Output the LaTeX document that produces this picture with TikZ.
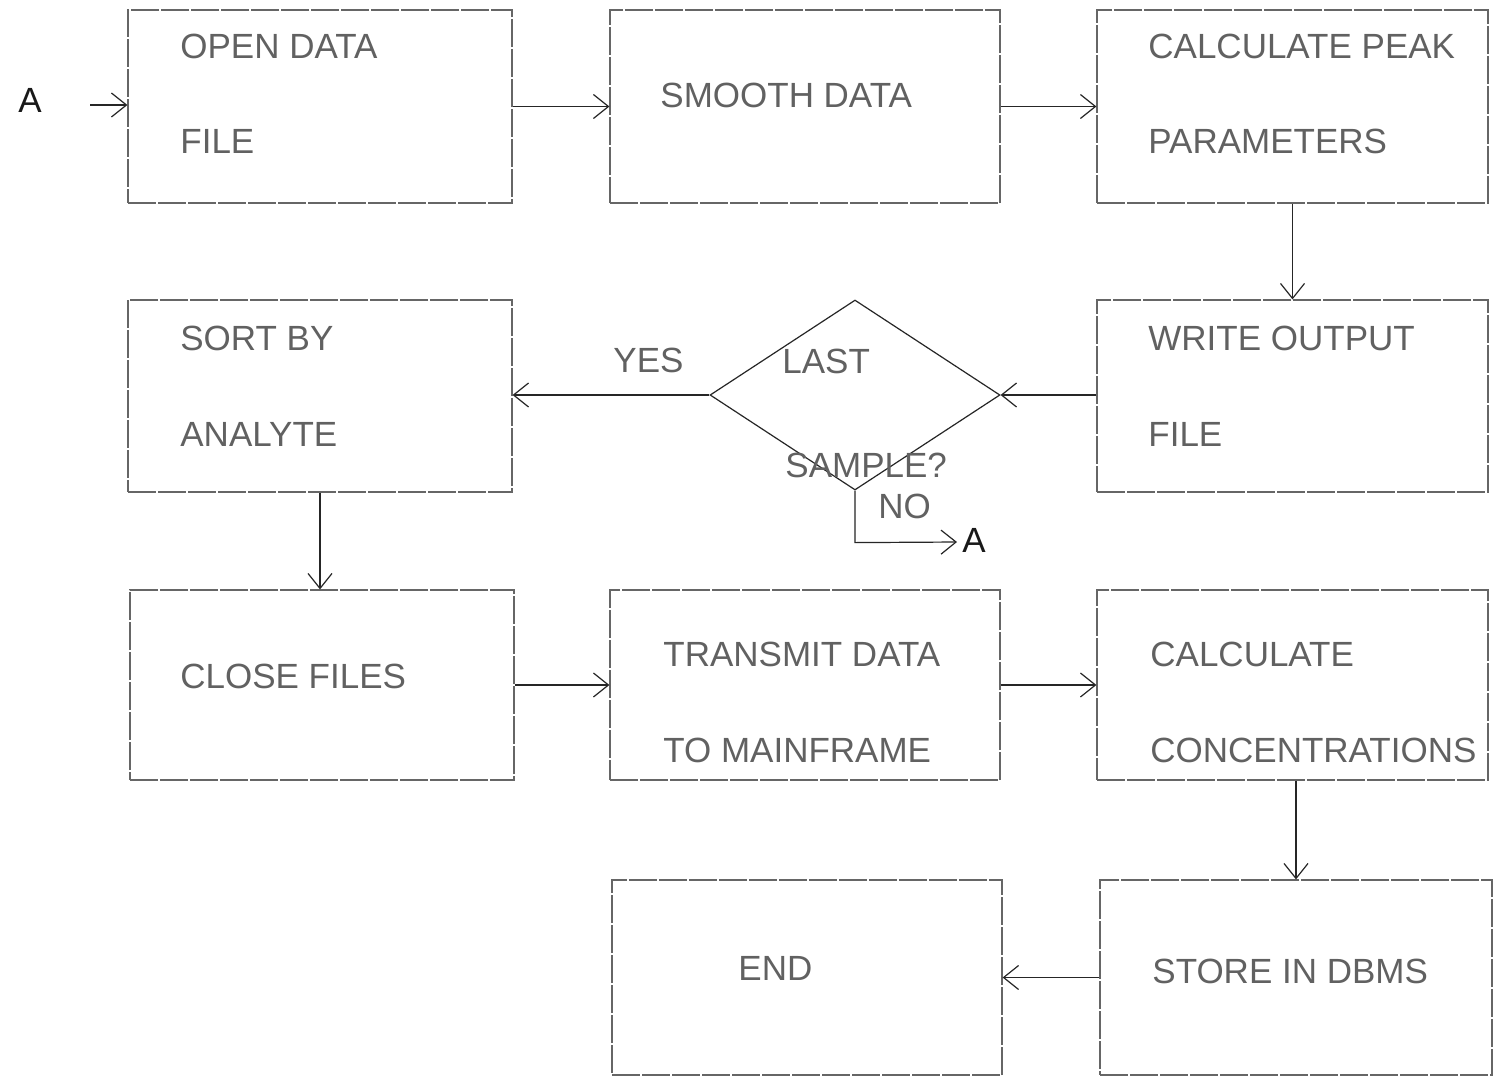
\documentclass[tikz,border=0pt]{standalone}
\usepackage{fontspec}
\setmainfont{Liberation Sans}
\usetikzlibrary{arrows.meta,shapes.geometric}
\begin{document}
\begin{tikzpicture}[x=0.5pt,y=-0.5pt,
  box/.style={draw=black!60, line width=0.6pt, dash pattern=on 14pt off 1pt, rectangle, inner sep=0pt},
  lbl/.style={anchor=base west, inner sep=0pt, font=\fontsize{17.5}{20}\selectfont, text=black!62},
  conn/.style={draw=black!85, line width=0.6pt, -{Straight Barb[length=7.5pt,width=12pt,line width=0.6pt]}},
  ]
\useasboundingbox (0,0) rectangle (1495,1077);
\fill[white] (0,0) rectangle (1495,1077);

% boxes
\node[box, minimum width=192pt, minimum height=96.5pt] (b1) at (320,106.5) {};
\node[box, minimum width=195pt, minimum height=96.5pt] (b2) at (805,106.5) {};
\node[box, minimum width=195.5pt, minimum height=96.5pt] (b3) at (1292.5,106.5) {};
\node[box, minimum width=192pt, minimum height=96pt] (b4) at (320,396) {};
\node[box, minimum width=195.5pt, minimum height=96pt] (b5) at (1292.5,396) {};
\node[box, minimum width=192pt, minimum height=95pt] (b7) at (322,685) {};
\node[box, minimum width=195pt, minimum height=95pt] (b8) at (805,685) {};
\node[box, minimum width=195.5pt, minimum height=95pt] (b9) at (1292.5,685) {};
\node[box, minimum width=195pt, minimum height=97.5pt] (b10) at (807,977.5) {};
\node[box, minimum width=196pt, minimum height=97.5pt] (b11) at (1296,977.5) {};
\node[diamond, draw=black!85, line width=0.6pt, minimum width=145pt, minimum height=95pt, inner sep=0pt] (d) at (855,395) {};

% labels
\node[lbl] (t1a) at (180,58) {OPEN DATA};
\node[lbl] (t1b) at (180,153) {FILE};
\node[lbl] (t2) at (660,107) {SMOOTH DATA};
\node[lbl] (t3a) at (1148,58) {CALCULATE PEAK};
\node[lbl] (t3b) at (1148,153) {PARAMETERS};
\node[lbl] (t4a) at (180,350) {SORT BY};
\node[lbl] (t4b) at (180,446) {ANALYTE};
\node[lbl] (t5a) at (1148,350) {WRITE OUTPUT};
\node[lbl] (t5b) at (1148,446) {FILE};
\node[lbl] (t7) at (180,688) {CLOSE FILES};
\node[lbl] (t8a) at (663,666) {TRANSMIT DATA};
\node[lbl] (t8b) at (663,762) {TO MAINFRAME};
\node[lbl] (t9a) at (1150,666) {CALCULATE};
\node[lbl] (t9b) at (1150,762) {CONCENTRATIONS};
\node[lbl] (t10) at (738,980) {END};
\node[lbl] (t11) at (1152,983) {STORE IN DBMS};
\node[lbl] (tl1) at (782,373) {LAST};
\node[lbl] (tl2) at (785,477) {SAMPLE?};
\node[lbl] (tyes) at (613,372) {YES};
\node[lbl] (tno) at (878,518) {NO};
\node[lbl, text=black!90] (aleft) at (18,112) {A};
\node[lbl, text=black!90] (ano) at (962,552) {A};

% connectors
\coordinate (s) at (90,105);
\draw[conn] (s) -- (b1.west |- s);
\draw[conn] (b1.east) -- (b2.west);
\draw[conn] (b2.east) -- (b3.west);
\draw[conn] (b3.south) -- (b5.north);
\draw[conn] (b5.west |- d.east) -- (d.east);
\draw[conn] (d.west) -- (b4.east |- d.west);
\draw[conn] (d.south) -- ++(0,52) -- (957,542);
\draw[conn] (b4.south) -- (b4.south |- b7.north);
\draw[conn] (b7.east) -- (b8.west);
\draw[conn] (b8.east) -- (b9.west);
\draw[conn] (b11.north |- b9.south) -- (b11.north);
\draw[conn] (b11.west) -- (b10.east);
\end{tikzpicture}
\end{document}
